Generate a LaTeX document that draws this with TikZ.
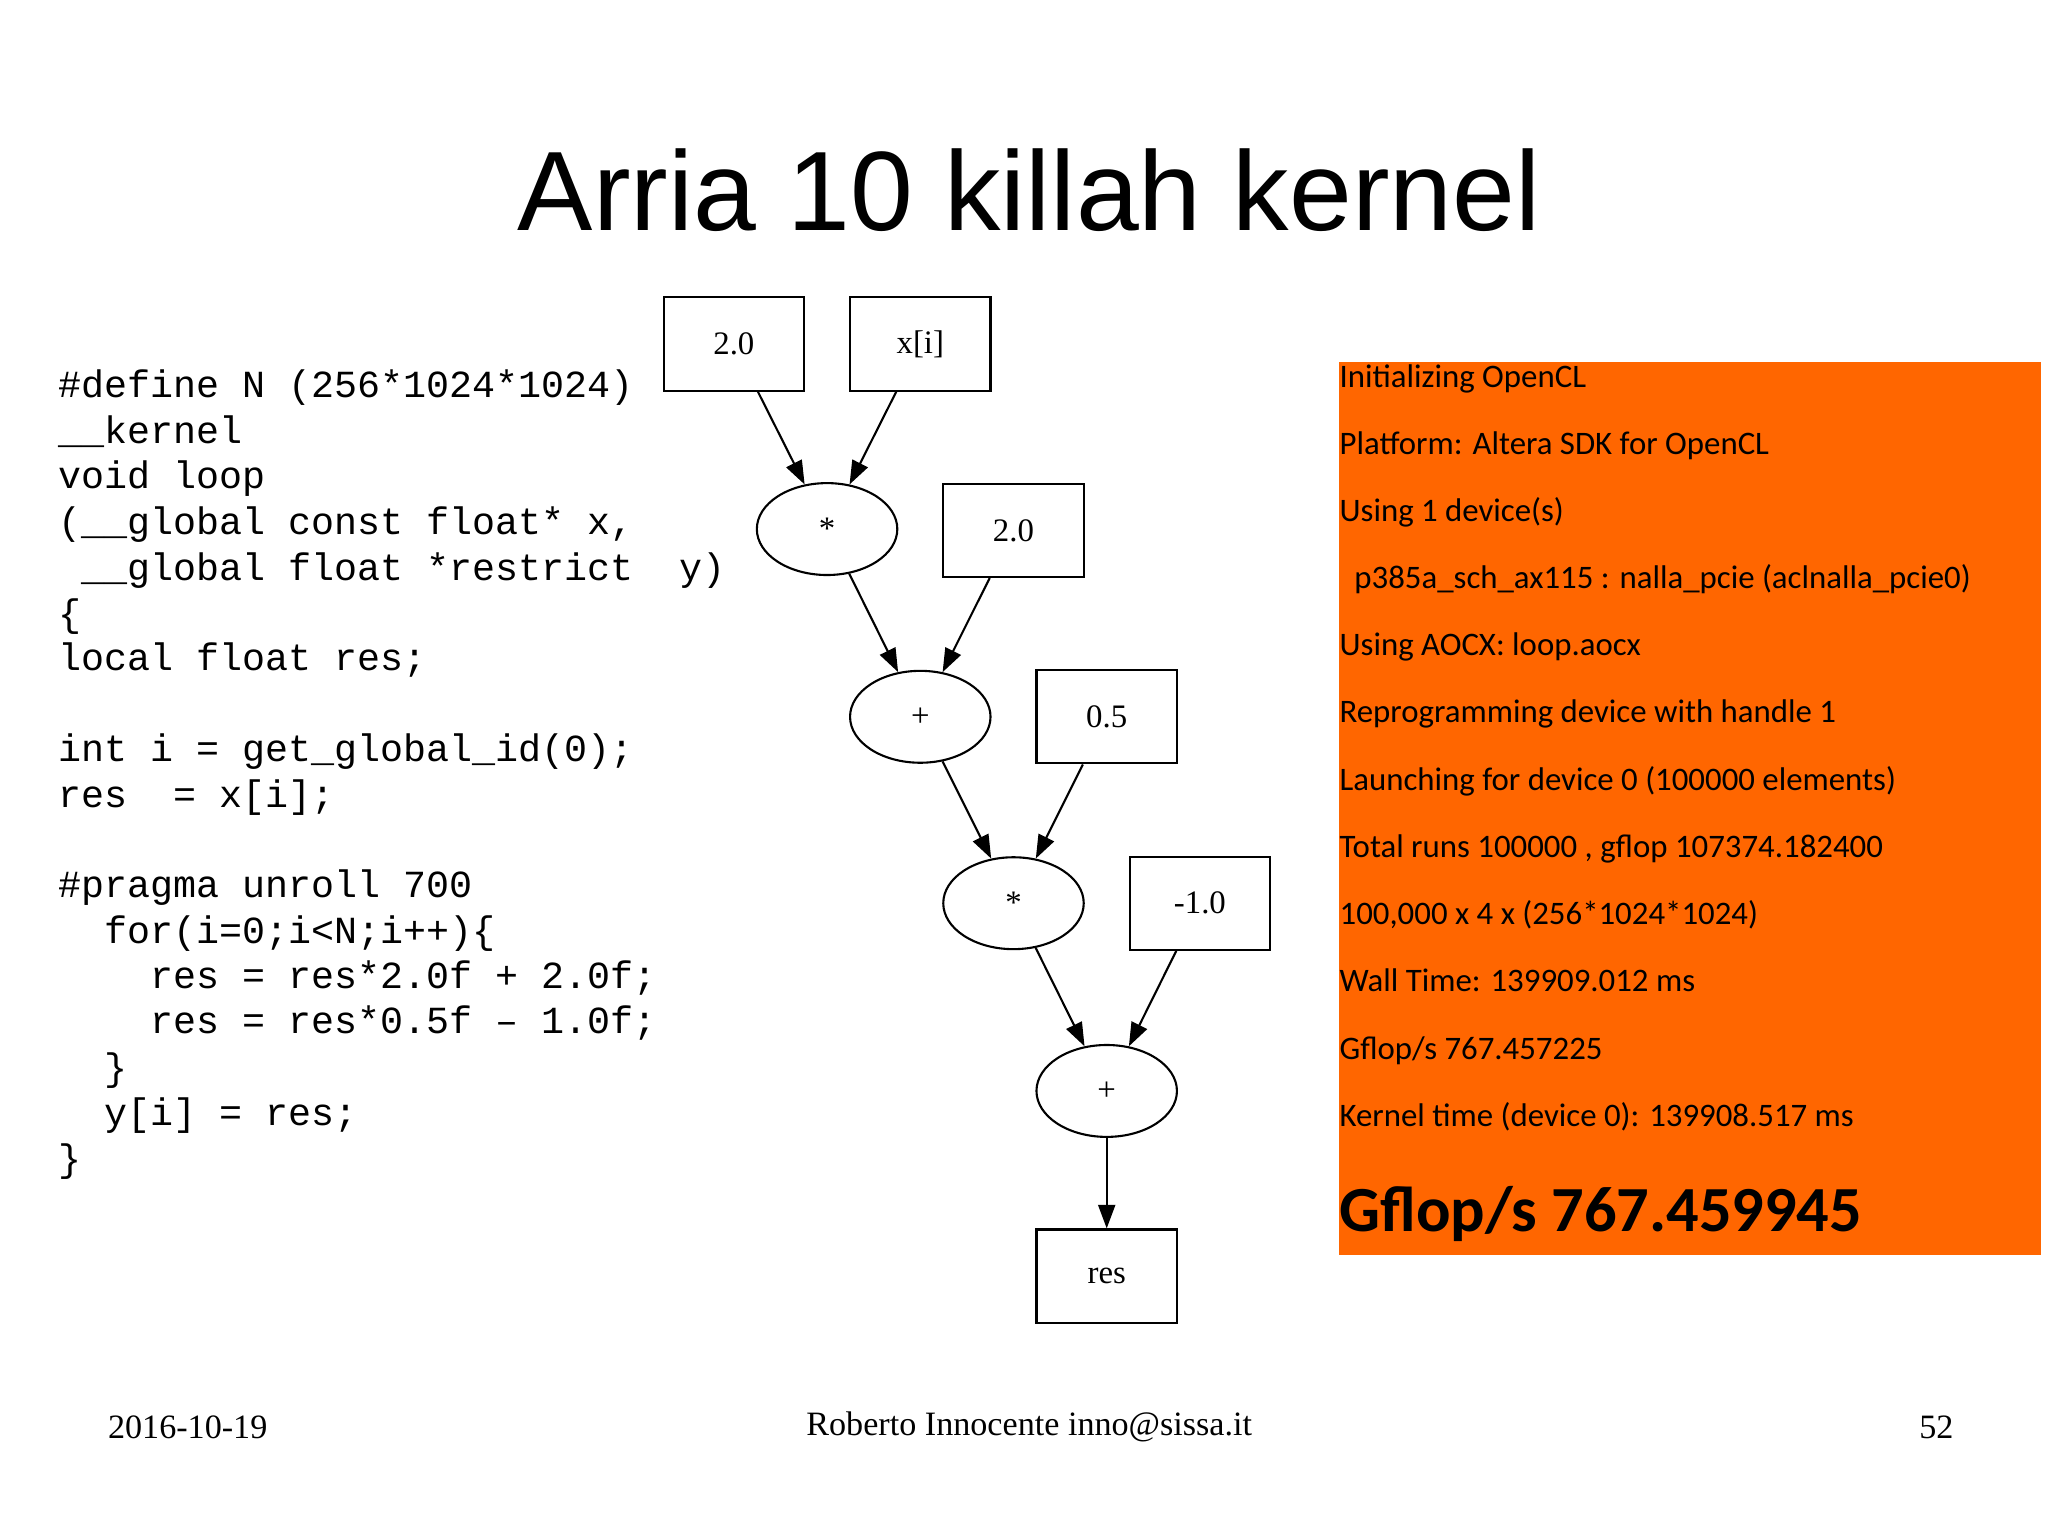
\documentclass[tikz,border=0pt]{standalone}
\usepackage{fontspec}
\setmainfont{Liberation Serif}
\newfontfamily\sansf{Liberation Sans}
\newfontfamily\monof{Liberation Mono}
\newfontfamily\carl{Carlito}
\usetikzlibrary{shapes.geometric,arrows.meta}
\begin{document}
\begin{tikzpicture}[x=0.5pt,y=-0.5pt,
  bx/.style={draw,line width=0.8pt,minimum width=53.5pt,minimum height=35.5pt,inner sep=0pt,font=\fontsize{12.5}{14}\selectfont},
  el/.style={draw,ellipse,line width=0.8pt,minimum width=53.5pt,minimum height=35pt,inner sep=0pt,font=\fontsize{12.5}{14}\selectfont},
  ar/.style={line width=0.8pt,-{Triangle[length=9pt,width=6.5pt]}},
  code/.style={anchor=base west,inner sep=0pt,font=\monof\fontsize{14.6}{16}\selectfont},
  logtxt/.style={anchor=base west,inner sep=0pt,font=\carl\fontsize{12.5}{14}\selectfont}]
\useasboundingbox (0,0) rectangle (1560,1170);
\node[font=\sansf\fontsize{43}{50}\selectfont] (title) at (784,145) {Arria 10 killah kernel};
% code
\foreach \t/\y [count=\i] in {{\#define\ N\ (256*1024*1024)}/303,{\_\_kernel}/338,{void\ loop}/372,{(\_\_global\ const\ float*\ x,}/407,{\ \_\_global\ float\ *restrict\ \ y)}/442,{\{}/477,{local\ float\ res;}/511,{int\ i\ =\ get\_global\_id(0);}/580,{res\ \ =\ x[i];}/615,{\#pragma\ unroll\ 700}/684,{\ \ for(i=0;i<N;i++)\{}/719,{\ \ \ \ res\ =\ res*2.0f\ +\ 2.0f;}/753,{\ \ \ \ res\ =\ res*0.5f\ –\ 1.0f;}/787,{\ \ \}}/823,{\ \ y[i]\ =\ res;}/857,{\}}/892}
  \node[code] (c\i) at (44,\y) {\t};
% graph
\node[bx] (a) at (559,262) {2.0};
\node[bx] (x) at (701,262) {x[i]};
\node[el] (m1) at (630,403) {*};
\node[bx] (b) at (772,404) {2.0};
\node[el] (p1) at (701,546) {+};
\node[bx] (h) at (843,546) {0.5};
\node[el] (m2) at (772,688) {*};
\node[bx] (n) at (914,688) {-1.0};
\node[el] (p2) at (843,831) {+};
\node[bx] (r) at (843,972) {res};
\draw[ar] (a) -- (m1);
\draw[ar] (x) -- (m1);
\draw[ar] (m1) -- (p1);
\draw[ar] (b) -- (p1);
\draw[ar] (p1) -- (m2);
\draw[ar] (h) -- (m2);
\draw[ar] (m2) -- (p2);
\draw[ar] (n) -- (p2);
\draw[ar] (p2) -- (r);
% orange box
\fill[fill={rgb,255:red,255;green,102;blue,0}] (1020,276) rectangle (1555,956);
\foreach \t/\y [count=\i] in {{Initializing OpenCL}/295,{Platform: Altera SDK for OpenCL}/346,{Using 1 device(s)}/397,{\ \ p385a\_sch\_ax115 : nalla\_pcie (aclnalla\_pcie0)}/448,{Using AOCX: loop.aocx}/499,{Reprogramming device with handle 1}/550,{Launching for device 0 (100000 elements)}/602,{Total runs 100000 , gflop 107374.182400}/653,{100,000 x 4 x (256*1024*1024)}/704,{Wall Time: 139909.012 ms}/755,{Gflop/s 767.457225}/807,{Kernel time (device 0): 139908.517 ms}/858}
  \node[logtxt] (o\i) at (1020,\y) {\t};
\node[logtxt,font=\carl\bfseries\fontsize{24.5}{28}\selectfont] (big) at (1020,938) {Gflop/s 767.459945};
% footer
\node[font=\fontsize{13}{15}\selectfont] (d) at (143,1087) {2016-10-19};
\node[font=\fontsize{13}{15}\selectfont] (au) at (784,1087) {Roberto Innocente inno@sissa.it};
\node[font=\fontsize{13}{15}\selectfont] (pg) at (1475,1087) {52};
\end{tikzpicture}
\end{document}
